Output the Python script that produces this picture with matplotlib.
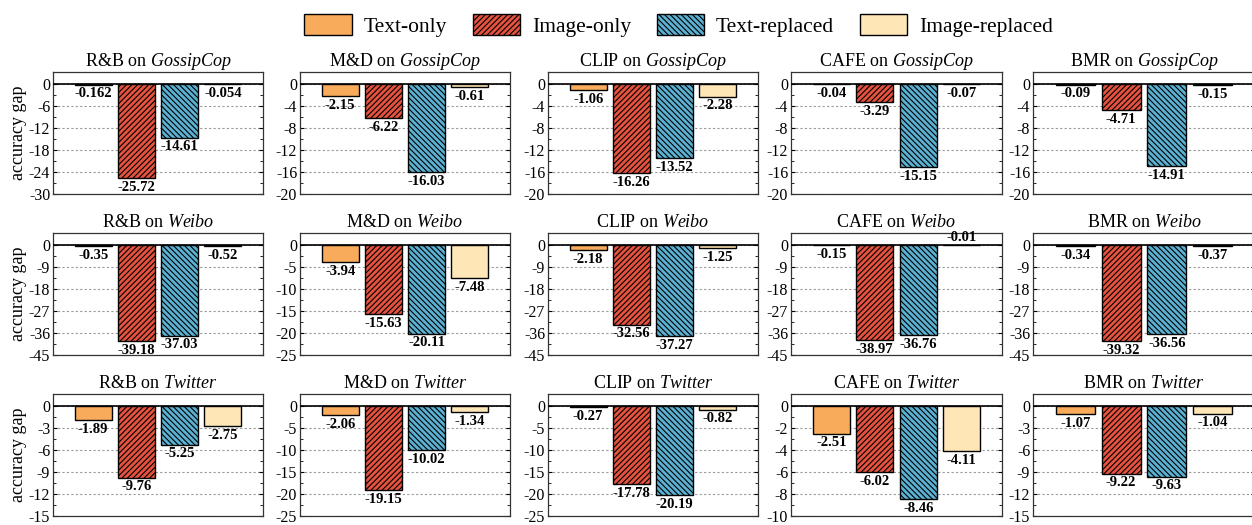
import matplotlib.pyplot as plt
from matplotlib.patches import Patch

plt.rcParams['font.family'] = ['Liberation Serif', 'DejaVu Serif']
plt.rcParams['mathtext.fontset'] = 'custom'
plt.rcParams['mathtext.rm'] = 'Liberation Serif'
plt.rcParams['mathtext.it'] = 'Liberation Serif:italic'
plt.rcParams['axes.unicode_minus'] = False
plt.rcParams['hatch.linewidth'] = 0.8

#data
models = ['R&B', 'M&D', 'CLIP', 'CAFE', 'BMR']
datasets = ['GossipCop', 'Weibo', 'Twitter']
series = ['Text-only', 'Image-only', 'Text-replaced', 'Image-replaced']

gossipcop = [[-0.162, -25.72, -14.61, -0.054],
             [-2.15, -6.22, -16.03, -0.61],
             [-1.06, -16.26, -13.52, -2.28],
             [-0.04, -3.29, -15.15, -0.07],
             [-0.09, -4.71, -14.91, -0.15]]
weibo = [[-0.35, -39.18, -37.03, -0.52],
         [-3.94, -15.63, -20.11, -7.48],
         [-2.18, -32.56, -37.27, -1.25],
         [-0.15, -38.97, -36.76, -0.01],
         [-0.34, -39.32, -36.56, -0.37]]
twitter = [[-1.89, -9.76, -5.25, -2.75],
           [-2.06, -19.15, -10.02, -1.34],
           [-0.27, -17.78, -20.19, -0.82],
           [-2.51, -6.02, -8.46, -4.11],
           [-1.07, -9.22, -9.63, -1.04]]

# y axis bottom and tick step per panel
ymin = [[-30, -20, -20, -20, -20],
        [-45, -25, -45, -45, -45],
        [-15, -25, -25, -10, -15]]
ystep = [[6, 4, 4, 4, 4],
         [9, 5, 9, 9, 9],
         [3, 5, 5, 2, 3]]

colors = ['#F7AB5B', '#E5533F', '#5BB1D2', '#FFE6B6']
hatches = [None, '//////', '\\\\\\\\\\\\', None]

all_data = [gossipcop, weibo, twitter]

fig = plt.figure(figsize=(12.52, 5.25), dpi=100)
W, H = 1252, 525
lefts = [53, 300, 548, 791, 1033]
widths = [210, 210, 210, 211, 222]
tops = [72, 233, 394]
ah = 122

for r in range(3):
    for c in range(5):
        ax = fig.add_axes([lefts[c]/W, 1-(tops[r]+ah)/H, widths[c]/W, ah/H])
        vals = all_data[r][c]
        lo = ymin[r][c]
        st = ystep[r][c]
        for i in range(4):
            ax.bar(i, vals[i], width=0.85, color=colors[i], hatch=hatches[i],
                   edgecolor='black', linewidth=1.0, zorder=3)
            if r == 1 and c == 3 and i == 3:
                # this label sits above the zero line in the original
                ax.annotate('%g' % vals[i], (i, 0), xytext=(0, 1), textcoords='offset points',
                            ha='center', va='bottom', fontsize=10.5, fontweight='bold', zorder=5)
            else:
                ax.annotate('%g' % vals[i], (i, vals[i]), xytext=(0, -2), textcoords='offset points',
                            ha='center', va='top', fontsize=10.5, fontweight='bold', zorder=5)
        ax.axhline(0, color='black', linewidth=1.2, zorder=4)
        ax.set_xlim(-0.93, 3.93)
        ax.set_ylim(lo, -lo*0.11)
        ax.set_yticks(range(0, lo-1, -st))
        ax.set_yticks([t - st/2 for t in range(0, lo, -st)], minor=True)
        ax.set_xticks([])
        ax.yaxis.grid(True, linestyle=(0, (2, 2)), color='#999999', linewidth=0.8, zorder=0)
        ax.tick_params(axis='y', which='both', direction='in', right=True, labelsize=11.5, pad=2)
        ax.tick_params(axis='y', which='major', length=3)
        ax.tick_params(axis='y', which='minor', length=2)
        for s in ax.spines.values():
            s.set_linewidth(0.9)
            s.set_color('#333333')
        ax.set_title(models[c] + ' on $\\mathit{' + datasets[r] + '}$', fontsize=13, pad=4)
        if c == 0:
            ax.set_ylabel('accuracy gap', fontsize=13, labelpad=1)

handles = [Patch(facecolor=colors[i], hatch=hatches[i], edgecolor='black', linewidth=1.0)
           for i in range(4)]
fig.legend(handles, series, loc='upper center', bbox_to_anchor=(0.542, 1.01), ncol=4,
           frameon=False, fontsize=15.5, handlelength=2.2, handleheight=1.1,
           columnspacing=1.2, handletextpad=0.55)

fig.savefig('out.png', dpi=100)
